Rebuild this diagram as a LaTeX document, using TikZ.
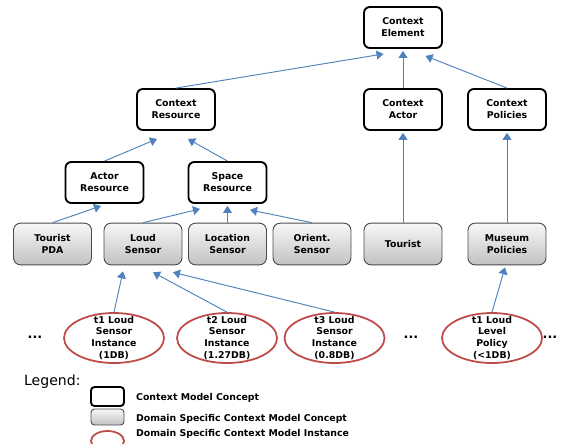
\documentclass[tikz,border=0pt]{standalone}
\usepackage{fontspec}
\setmainfont{DejaVu Sans}
\usepackage{tikz}
\usetikzlibrary{shapes.geometric, arrows.meta}
\definecolor{edgeblue}{RGB}{79, 129, 189}
\definecolor{instred}{RGB}{190, 75, 72}
\newcommand{\boxfont}{\fontsize{8}{10.2}\selectfont\bfseries}

\tikzset{
  concept/.style={draw=black, line width=1.6pt, rounded corners=5pt, fill=white,
    minimum width=2.34cm, minimum height=1.23cm, align=center, font=\boxfont},
  dsconcept/.style={draw=black!70, line width=0.8pt, rounded corners=6pt,
    top color=black!3, bottom color=black!24,
    minimum width=2.34cm, minimum height=1.25cm, align=center, font=\boxfont},
  inst/.style={ellipse, draw=instred, line width=1.5pt, inner sep=0pt,
    minimum width=3.0cm, minimum height=1.5cm},
  lab/.style={font=\boxfont, align=center},
  edge/.style={->, >={Triangle[length=0.21cm, width=0.27cm]}, draw=edgeblue, line width=0.8pt}
}

\begin{document}
\begin{tikzpicture}[x=0.03cm, y=-0.03cm]

  \useasboundingbox (0, 0) rectangle (566, 443);

  % context model concepts
  \foreach \name/\x/\y/\txt in {cel/403/27.5/{Context\\Element},
                                 cres/176/109.5/{Context\\Resource},
                                 cact/403/109.5/{Context\\Actor},
                                 cpol/507/109.5/{Context\\Policies},
                                 ares/104.5/182.5/{Actor\\Resource},
                                 sres/227.5/182.5/{Space\\Resource}} {
    \node[concept] (\name) at (\x, \y) {\txt};
  }

  % domain specific concepts
  \foreach \name/\x/\txt in {tpda/52.5/{Tourist\\PDA}, lsen/143/{Loud\\Sensor},
                             locs/227.5/{Location\\Sensor}, osen/312/{Orient.\\Sensor},
                             tour/403/{Tourist}, mpol/507/{Museum\\Policies}} {
    \node[dsconcept] (\name) at (\x, 244) {\txt};
  }

  % domain specific instances
  \node[inst, label={[lab]center:{t1 Loud\\Sensor\\Instance\\(1DB)}}] (e1) at (114, 338) {};
  \node[inst, label={[lab]center:{t2 Loud\\Sensor\\Instance\\(1.27DB)}}] (e2) at (227, 338) {};
  \node[inst, label={[lab]center:{t3 Loud\\Sensor\\Instance\\(0.8DB)}}] (e3) at (334.5, 338) {};
  \node[inst, label={[lab]center:{t1 Loud\\Level\\Policy\\(<1DB)}}] (e4) at (492, 338) {};

  \foreach \x [count=\n] in {35, 411, 550}
    \node[font=\fontsize{11}{11}\selectfont\bfseries] (dots\n) at (\x, 337) {...};

  % connectors
  \foreach \a/\b/\s in {cres/cel/{(-19.5,5)}, cact/cel/{(0,2)}, cpol/cel/{(22.5,7)},
                        ares/cres/{(-19,8)}, sres/cres/{(12,8)},
                        tpda/ares/{(-3.5,2)}, lsen/sres/{(-27.5,5)}, locs/sres/{(0,2)},
                        osen/sres/{(22.5,6)}, tour/cact/{(0,2)}, mpol/cpol/{(0,2)},
                        e1/lsen/{(-20,6)}, e2/lsen/{(10,7)}, e3/lsen/{(30,7)},
                        e4/mpol/{(-2,2)}} {
    \draw[edge] (\a.north) -- ([shift={\s}]\b.south);
  }

  % legend
  \node[anchor=west, font=\fontsize{12}{12}\selectfont] (legend) at (20, 382) {Legend:};
  \node[concept, minimum width=0.99cm, minimum height=0.57cm, rounded corners=3pt] (lg1) at (107.5, 396.5) {};
  \node[dsconcept, minimum width=0.99cm, minimum height=0.48cm, rounded corners=3pt] (lg2) at (107.5, 417) {};
  \node[inst, minimum width=0.99cm, minimum height=0.6cm] (lg3) at (107.5, 441) {};
  \node[anchor=west, font=\boxfont] (lt1) at (132, 398) {Context Model Concept};
  \node[anchor=west, font=\boxfont] (lt2) at (132, 419) {Domain Specific Context Model Concept};
  \node[anchor=west, font=\boxfont] (lt3) at (132, 434) {Domain Specific Context Model Instance};

\end{tikzpicture}
\end{document}
